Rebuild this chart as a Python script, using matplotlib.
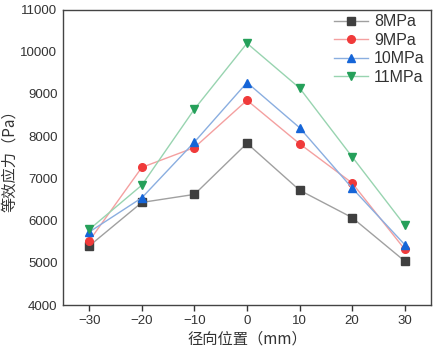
import matplotlib
matplotlib.use("Agg")
import matplotlib.pyplot as plt

plt.rcParams['font.family'] = ['Liberation Sans', 'Noto Sans CJK SC', 'DejaVu Sans']

x = [-30, -20, -10, 0, 10, 20, 30]
s8 = [5400, 6430, 6620, 7830, 6720, 6070, 5040]
s9 = [5520, 7260, 7730, 8850, 7820, 6890, 5320]
s10 = [5730, 6540, 7860, 9270, 8200, 6770, 5430]
s11 = [5790, 6840, 8640, 10200, 9140, 7510, 5890]
labels = ['8MPa', '9MPa', '10MPa', '11MPa']

fig = plt.figure(figsize=(4.34, 3.53), dpi=100)
ax = fig.add_axes([63/434, 1-305/353, (431-63)/434, (305-9.5)/353])

styles = [
    (s8, 's', '#3f3f3f', '#a0a0a0'),
    (s9, 'o', '#f03a3a', '#f4a0a0'),
    (s10, '^', '#1565d8', '#8aaee0'),
    (s11, 'v', '#25a05a', '#98d4b0'),
]
for (ys, m, mc, lc), lab in zip(styles, labels):
    ax.plot(x, ys, color=lc, lw=1.0, marker=m, markersize=5.5,
            markerfacecolor=mc, markeredgecolor=mc, label=lab)

ax.set_xlim(-35, 35)
ax.set_ylim(4000, 11000)
ax.set_xticks(x)
ax.set_yticks(range(4000, 11001, 1000))
ax.tick_params(axis='x', direction='out', length=4, width=1, labelsize=9.5, colors='#333333')
ax.tick_params(axis='y', length=0, labelsize=9.5, colors='#333333', pad=4)
for sp in ax.spines.values():
    sp.set_color('#444444')
    sp.set_linewidth(1.0)

ax.set_xlabel('径向位置（mm）', fontsize=11, family=['Noto Sans CJK SC', 'DejaVu Sans'], color='#333333', labelpad=2)
ax.set_ylabel('等效应力（Pa）', fontsize=11, family=['Noto Sans CJK SC', 'DejaVu Sans'], color='#333333', labelpad=2)

leg = ax.legend(loc='upper right', frameon=False, fontsize=11.5, handlelength=2.1,
                labelspacing=0.22, borderaxespad=0.0, handletextpad=0.4,
                bbox_to_anchor=(1.0, 1.005), labelcolor='#333333')

fig.savefig('out.png', dpi=100)
